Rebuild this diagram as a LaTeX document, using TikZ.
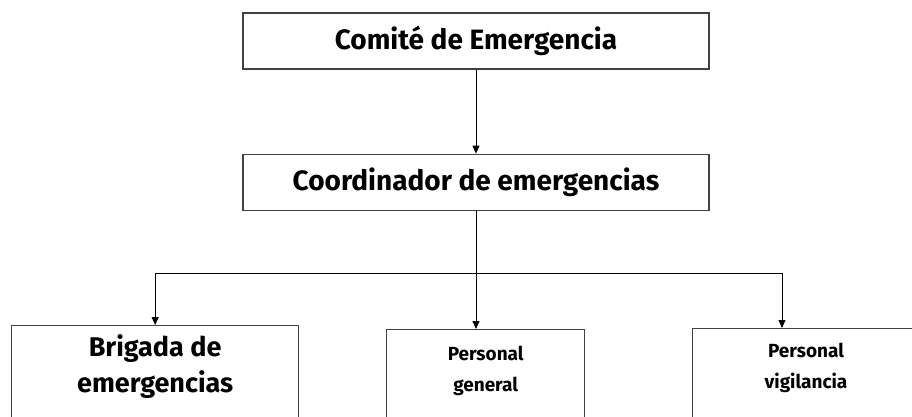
\documentclass[tikz,border=0pt]{standalone}
\usepackage{fontspec}
\setmainfont{Fira Sans}
\usetikzlibrary{positioning, arrows.meta}
\begin{document}
\begin{tikzpicture}[x=1pt, y=-1pt]
    % Block styles
    \tikzstyle{block} = [rectangle, draw=black!75, line width=1.3pt, minimum width=466pt, minimum height=56pt, font=\bfseries\fontsize{28}{32}\selectfont]
    \tikzstyle{low_block} = [rectangle, draw=black!75, line width=1.3pt, anchor=north west, minimum height=140pt]
    \tikzstyle{block_text} = [align=center, font=\bfseries\fontsize{27}{36}\selectfont]
    \tikzstyle{small_text} = [align=center, font=\bfseries\fontsize{19}{31}\selectfont]
    \tikzstyle{line} = [draw, line width=0.9pt, -{Triangle[width=7pt,length=8pt]}]
    \useasboundingbox (0,0) rectangle (912,417);
    \clip (0,0) rectangle (912,417);
    % Top of the chart
    \node[block] (comite) at (476,41) {Comité de Emergencia};
    \node[block, below=84pt of comite] (coord) {Coordinador de emergencias};
    % Lower boxes, cut by the page edge
    \node[low_block, minimum width=287pt] (brigada) at (11,325) {};
    \node[low_block, minimum width=198pt] (general) at (386,329) {};
    \node[low_block, minimum width=230pt] (vigil) at (692,328) {};
    \node[block_text] (brigada_txt) at ([yshift=-42pt]brigada.north) {Brigada de\\emergencias};
    \node[small_text] (general_txt) at ([yshift=-42pt]general.north) {Personal\\general};
    \node[small_text] (vigil_txt) at ([xshift=114pt, yshift=-40pt]vigil.north west) {Personal\\vigilancia};
    % Connections
    \draw[line] (comite) -- (coord);
    \draw (coord.south) -- ++(0,62) coordinate (split);
    \draw[line] (split) -| (brigada.north);
    \draw[line] (split) -- (split |- general.north);
    \draw[line] (split) -| ([xshift=90pt]vigil.north west);
\end{tikzpicture}
\end{document}
